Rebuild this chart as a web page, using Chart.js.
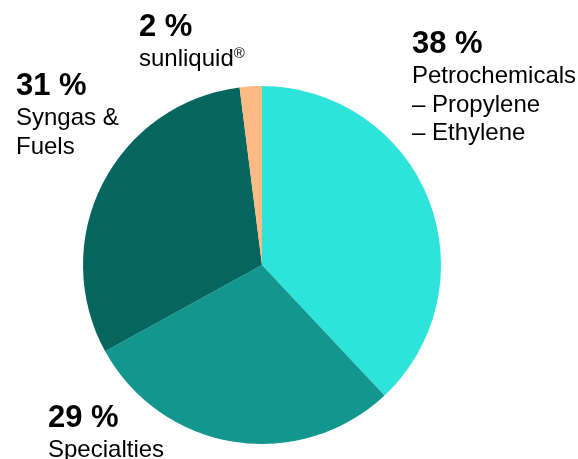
<!DOCTYPE html>
<html>
<head>
<meta charset="utf-8">
<script src="https://cdn.jsdelivr.net/npm/chart.js@4/dist/chart.umd.min.js"></script>
<style>
  html, body { margin: 0; padding: 0; background: #fff; }
  #wrap { position: relative; width: 578px; height: 459px; }
</style>
</head>
<body>
<div id="wrap"><canvas id="pie"></canvas></div>
<script>
// segments, clockwise from 12 o'clock
const categories = ['Petrochemicals', 'Specialties', 'Syngas & Fuels', 'sunliquid'];
const shares = [38, 29, 31, 2];
const labelLines = [
    ['Petrochemicals', '– Propylene', '– Ethylene'],
    ['Specialties'],
    ['Syngas &', 'Fuels'],
    ['sunliquid']
];
const colors = ['#2ee3da', '#13968e', '#05665f', '#fdba82'];

// where each label block sits (left x, baseline of the % line)
const labelPos = [
    {x: 412, y: 53},
    {x: 48, y: 427},
    {x: 16, y: 95},
    {x: 139, y: 36}
];

const FONT = '"Liberation Sans", Arial, sans-serif';

const outsideLabels = {
    id: 'outsideLabels',
    afterDraw(chart) {
        const ctx = chart.ctx;
        ctx.save();
        ctx.fillStyle = '#000';
        ctx.textAlign = 'left';
        ctx.textBaseline = 'alphabetic';
        chart.data.datasets[0].data.forEach((v, i) => {
            const p = labelPos[i];
            ctx.font = 'bold 31px ' + FONT;
            ctx.fillText(v + ' %', p.x, p.y);
            ctx.font = '24px ' + FONT;
            labelLines[i].forEach((line, j) => {
                const y = p.y + 30 + j * 28.5;
                ctx.fillText(line, p.x, y);
                // registered mark after sunliquid
                if (categories[i] === 'sunliquid') {
                    const w = ctx.measureText(line).width;
                    ctx.font = '15px ' + FONT;
                    ctx.fillText('®', p.x + w, y - 8);
                    ctx.font = '24px ' + FONT;
                }
            });
        });
        ctx.restore();
    }
};

new Chart(document.getElementById('pie'), {
    type: 'pie',
    data: {
        labels: categories,
        datasets: [{
            data: shares,
            backgroundColor: colors,
            borderWidth: 0
        }]
    },
    options: {
        responsive: true,
        maintainAspectRatio: false,
        animation: false,
        layout: {
            padding: {left: 83, right: 137, top: 86, bottom: 15}
        },
        plugins: {
            legend: {display: false},
            tooltip: {enabled: false}
        }
    },
    plugins: [outsideLabels]
});
</script>
</body>
</html>
